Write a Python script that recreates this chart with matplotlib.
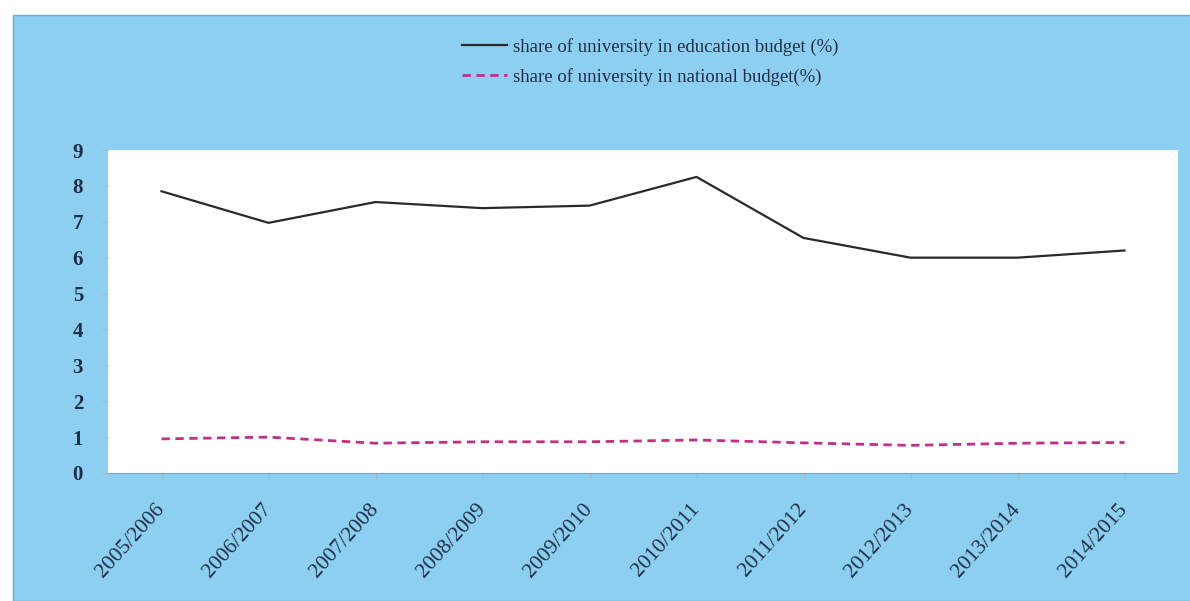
import numpy as np
import matplotlib
matplotlib.use('Agg')
import matplotlib.pyplot as plt
from matplotlib.patches import Rectangle

plt.rcParams['font.family'] = ['Liberation Serif', 'DejaVu Serif']

# data
years = ['2005/2006', '2006/2007', '2007/2008', '2008/2009', '2009/2010',
         '2010/2011', '2011/2012', '2012/2013', '2013/2014', '2014/2015']
edu_share = [7.85, 6.97, 7.55, 7.38, 7.45, 8.25, 6.55, 6.0, 6.0, 6.2]
nat_share = [0.95, 1.0, 0.83, 0.87, 0.87, 0.92, 0.84, 0.77, 0.83, 0.85]

BLUE = '#8dcff0'
TXT = '#1f2d4a'

fig = plt.figure(figsize=(11.9, 6.01), dpi=100)
fig.patch.set_facecolor('white')
# blue panel behind everything
fig.patches.append(Rectangle((13 / 1190, 0), 1, 1 - 15 / 601, transform=fig.transFigure,
                             facecolor=BLUE, edgecolor='#6fa9c8', linewidth=1.0, zorder=-5))

ax = fig.add_axes([108 / 1190, 1 - 473 / 601, (1178 - 108) / 1190, (473 - 150) / 601])
ax.set_facecolor('white')

x = np.arange(len(years))
ax.plot(x, edu_share, color='#2a2a2a', linewidth=1.6,
        label='share of university in education budget (%)')
ax.plot(x, nat_share, color='#c0308a', linewidth=2.0, linestyle=(0, (3, 2)),
        label='share of university in national budget(%)')

ax.set_xlim(-0.5, len(years) - 0.5)
ax.set_ylim(0, 9)
ax.set_yticks(range(0, 10))
ax.set_xticks(x)
ax.set_xticklabels(years, rotation=48, ha='right', va='center', rotation_mode='anchor')
for s in ax.spines.values():
    s.set_visible(False)
ax.spines['bottom'].set_visible(True)
ax.spines['bottom'].set_color('#7fa8c0')
ax.tick_params(axis='y', length=4, pad=14, labelsize=15, colors='#9cbccc', labelcolor=TXT)
ax.tick_params(axis='x', length=4, pad=20, labelsize=15.5, colors='#9cbccc', labelcolor=TXT)
for t in ax.get_yticklabels():
    t.set_fontweight('bold')

leg = fig.legend(loc='center', bbox_to_anchor=(650 / 1190, 1 - 62 / 601), ncol=1,
                 frameon=False, fontsize=13.5, handlelength=2.4, handletextpad=0.3,
                 labelspacing=0.65, labelcolor=TXT)

plt.savefig('out.png', dpi=100, facecolor=fig.get_facecolor())
